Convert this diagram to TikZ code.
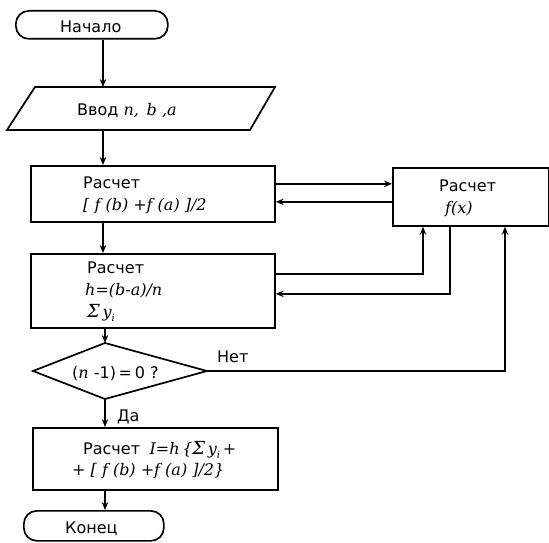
\documentclass[tikz,border=0pt]{standalone}
\usepackage{fontspec}
\setmainfont{DejaVu Sans}
\newfontfamily\serfam{DejaVu Serif}
\newcommand\mvar[1]{{\fontsize{16}{19}\selectfont\serfam\itshape #1}}
\newcommand\bigsig{{\fontsize{18}{20}\selectfont\serfam\itshape Σ}}
\newcommand\subi{\raisebox{-0.3em}{\fontsize{10}{12}\selectfont\serfam\itshape i}}
\usetikzlibrary{arrows.meta}
\begin{document}
\begin{tikzpicture}[x=1pt,y=-1pt,
  ln/.style={line width=1.7pt},
  arr/.style={ln,-{Stealth[length=8pt,width=6.5pt]}},
  txt/.style={anchor=base west, inner sep=0pt, font=\fontsize{16}{19}\selectfont},
  blk/.style={draw, ln, inner sep=0pt, anchor=north west},
  term/.style={draw, ln, rounded corners=13pt, inner sep=0pt, anchor=north west}
]
\useasboundingbox (0,0) rectangle (549,543);
% spine coordinates
\coordinate (sp) at (103,0);
\coordinate (sq) at (105,0);
\coordinate (fx1) at (423,0);
\coordinate (fx2) at (450,0);
\coordinate (fx3) at (505,0);

% start
\node[term, minimum width=152pt, minimum height=28pt] (start) at (15,10) {};
\node[txt] (tstart) at (60,33) {Начало};

% input parallelogram
\coordinate (i1) at (35,87);
\coordinate (i2) at (275,87);
\coordinate (i3) at (250,130);
\coordinate (i4) at (7,130);
\draw[ln] (i1) -- (i2) -- (i3) -- (i4) -- cycle;
\node[txt] (tin) at (77,115) {Ввод \mvar{n, \,b ,a}};

% box 1
\node[blk, minimum width=244pt, minimum height=56pt] (b1) at (30,165) {};
\node[txt] (t1a) at (83,188) {Расчет};
\node[txt] (t1b) at (83,210) {\mvar{[ f (b) +f (a) ]/2}};

% box 2
\node[blk, minimum width=244pt, minimum height=74pt] (b2) at (30,253) {};
\node[txt] (t2a) at (87,273) {Расчет};
\node[txt] (t2b) at (85,295) {\mvar{h=(b-a)/n}};
\node[txt] (t2c) at (87,317) {\bigsig\,\mvar{y}\subi};

% function box
\node[blk, minimum width=156pt, minimum height=58pt] (f) at (392,167) {};
\node[txt] (tfa) at (439,191) {Расчет};
\node[txt] (tfb) at (445,213) {\mvar{f(x)}};

% decision diamond
\coordinate (dl) at (33,371);
\coordinate (dt) at (105,343);
\coordinate (dr) at (207,371);
\coordinate (db) at (105,399);
\draw[ln] (dl) -- (dt) -- (dr) -- (db) -- cycle;
\node[txt] (td) at (72,378) {(\mvar{n} -1)\,=\,0 ?};

% box 3
\node[blk, minimum width=245pt, minimum height=62pt] (b3) at (32,427) {};
\node[txt] (t3a) at (83,454) {Расчет\; \mvar{I=h\,\{}\bigsig\,\mvar{y}\subi\mvar{\,+}};
\node[txt] (t3b) at (72,475) {\mvar{+ [ f (b) +f (a) ]/2\}}};

% end
\node[term, minimum width=140pt, minimum height=30pt] (end) at (23,510) {};
\node[txt] (tend) at (65,533) {Конец};

% labels
\node[txt] (no) at (217,362) {Нет};
\node[txt] (yes) at (117,421) {Да};

% connectors
\draw[arr] (start.south -| sp) -- (sp |- i1);
\draw[arr] (sp |- i4) -- (b1.north -| sp);
\draw[arr] (b1.south -| sp) -- (b2.north -| sp);
\draw[arr] (b2.south -| sq) -- (dt);
\draw[arr] (db) -- (b3.north -| sq);
\draw[arr] (b3.south -| sq) -- (end.north -| sq);

\draw[arr] ([yshift=10pt]b1.east) -- ([yshift=10pt]b1.east -| f.west);
\draw[arr] ([yshift=-8pt]b1.east -| f.west) -- ([yshift=-8pt]b1.east);

\draw[arr] ([yshift=17pt]b2.east) -| (fx1 |- f.south);
\draw[arr] (fx2 |- f.south) |- ([yshift=-3pt]b2.east);
\draw[arr] (dr) -| (fx3 |- f.south);
\end{tikzpicture}
\end{document}
